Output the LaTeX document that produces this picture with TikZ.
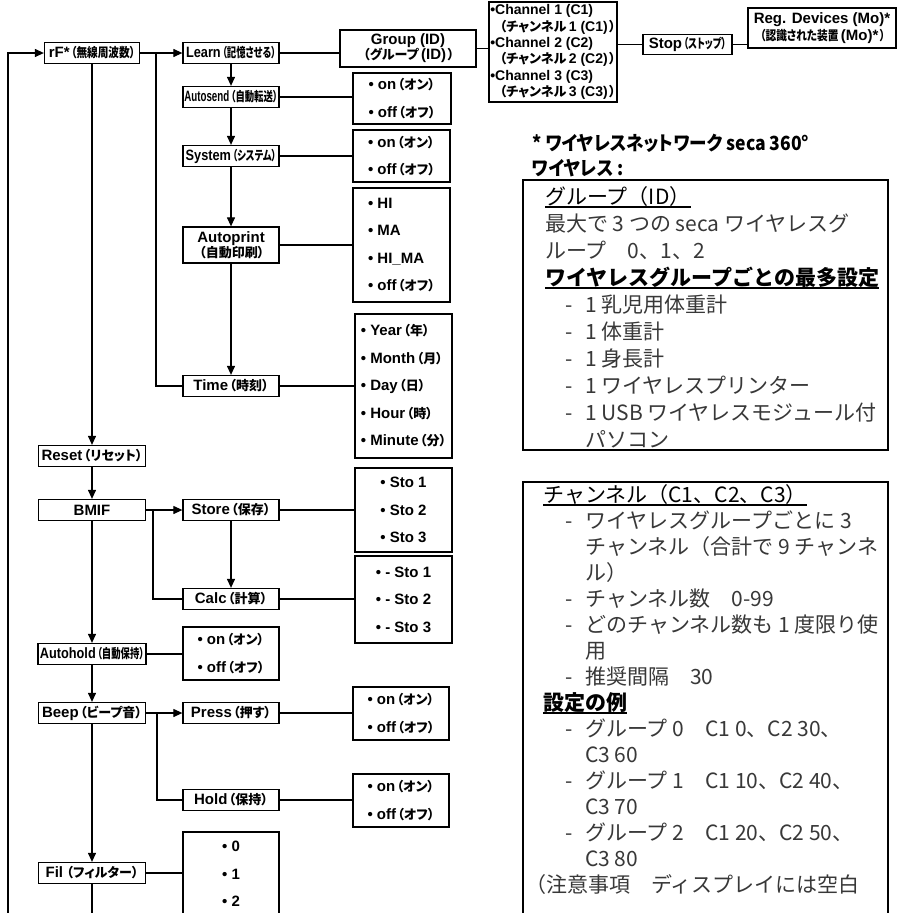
\documentclass[tikz,border=0pt]{standalone}
\usepackage{fontspec}
\setmainfont{Liberation Sans}
\newfontfamily\cA[FakeStretch=0.65]{Liberation Sans}
\newfontfamily\cB[FakeStretch=0.85]{Liberation Sans}
\newfontfamily\jpf{Noto Sans CJK JP}
\newfontfamily\jpp[RawFeature=+palt]{Noto Sans CJK JP}
\newfontfamily\jpc[RawFeature=+palt,FakeStretch=0.72]{Noto Sans CJK JP}
\newfontfamily\jpr[RawFeature=+palt,FakeStretch=0.82]{Noto Sans CJK JP}
\newfontfamily\jph[RawFeature=+palt,FakeStretch=0.9]{Noto Sans CJK JP}
\usetikzlibrary{arrows.meta}
\newcommand\J[1]{{\jpp\bfseries\fontsize{13}{14}\selectfont\hspace{1.5pt}#1}}
\newcommand\Jc[1]{{\jpc\bfseries\fontsize{13}{14}\selectfont\hspace{1.5pt}#1}}
\newcommand\Jr[1]{{\jpr\bfseries\fontsize{13}{14}\selectfont\hspace{1.5pt}#1}}
\newcommand\ulx[1]{\setbox0\hbox{#1}\rlap{\rule[-3.5pt]{\wd0}{1.6pt}}\box0}
\newcommand\dl[1]{\makebox[20pt][l]{-}#1}
\begin{document}
\begin{tikzpicture}[x=1pt,y=-1pt,
 lbl/.style={draw,line width=1.25pt,inner xsep=1pt,inner ysep=0pt,minimum height=21pt,font=\bfseries\fontsize{15}{17}\selectfont},
 opt/.style={draw,line width=1.25pt,inner sep=0pt,align=left,font=\bfseries\fontsize{15}{27.5}\selectfont},
 ln/.style={line width=1.15pt},
 arr/.style={ln,-{Triangle[length=9pt,width=8pt]}},
 note/.style={anchor=base west,inner sep=0pt,font=\jpf\fontsize{21}{24}\selectfont,text=black!78},
 noteh/.style={note,text=black},
 notehb/.style={note,text=black,font=\jpf\bfseries\fontsize{21}{24}\selectfont},
 head/.style={anchor=base west,inner sep=0pt,font=\jph\bfseries\fontsize{19.5}{22}\selectfont},
 frame/.style={line width=2pt}]
\fill[white] (0,0) rectangle (898,913);
\useasboundingbox (0,0) rectangle (898,913);

% top row
\node[lbl,minimum width=95pt] (rF) at (92,53) {rF*\Jr{（無線周波数）}};
\node[lbl,minimum width=96pt] (learn) at (231,53) {\cB Learn\Jc{（記憶させる）}};
\node[lbl,minimum width=136pt,minimum height=37pt,align=center,font=\bfseries\fontsize{15}{15}\selectfont] (group) at (408,48.5) {Group (ID)\\\J{（グループ}\,(ID)\J{）}};
\node[lbl,minimum width=128pt,minimum height=100pt,align=left,font=\bfseries\fontsize{14}{16.4}\selectfont] (chan) at (553,52) {•Channel 1 (C1)\\\hspace*{8pt}\J{（チャンネル}\,1 (C1)\J{）}\\•Channel 2 (C2)\\\hspace*{8pt}\J{（チャンネル}\,2 (C2)\J{）}\\•Channel 3 (C3)\\\hspace*{8pt}\J{（チャンネル}\,3 (C3)\J{）}};
\node[lbl,minimum width=89pt,minimum height=20pt] (stop) at (687.5,44.5) {Stop\Jc{（ストップ）}};
\node[lbl,minimum width=148pt,minimum height=40pt,align=center,font=\bfseries\fontsize{15}{17}\selectfont] (reg) at (822,28) {Reg. Devices (Mo)*\\\Jr{（認識された装置}\,(Mo)*\Jr{）}};

% learn column
\node[lbl,minimum width=96pt] (autosend) at (231,97) {\cA Autosend\Jc{（自動転送）}};
\node[lbl,minimum width=96pt] (system) at (231,156) {\cB System\Jc{（システム）}};
\node[lbl,minimum width=96pt,minimum height=36pt,align=center,font=\bfseries\fontsize{15}{15.5}\selectfont] (autoprint) at (231,245) {Autoprint\\\J{（自動印刷）}};
\node[lbl,minimum width=96pt] (time) at (231,386) {Time\J{（時刻）}};
\node[opt,minimum width=98pt,minimum height=51pt] (o1) at (402,98.5) {• on\J{（オン）}\\• off\J{（オフ）}};
\node[opt,minimum width=97pt,minimum height=52pt] (o2) at (401.5,156) {• on\J{（オン）}\\• off\J{（オフ）}};
\node[opt,minimum width=97pt,minimum height=114pt] (o3) at (401.5,245) {• HI\\• MA\\• HI\_MA\\• off\J{（オフ）}};
\node[opt,minimum width=97pt,minimum height=144pt] (o4) at (403.5,386) {• Year\J{（年）}\\• Month\J{（月）}\\• Day\J{（日）}\\• Hour\J{（時）}\\• Minute\J{（分）}};

% main column
\node[lbl,minimum width=107pt] (reset) at (92,456) {Reset\J{（リセット）}};
\node[lbl,minimum width=107pt] (bmif) at (92,510) {BMIF};
\node[lbl,minimum width=96pt] (store) at (231,510) {Store\J{（保存）}};
\node[lbl,minimum width=96pt] (calc) at (231,599) {Calc\J{（計算）}};
\node[opt,minimum width=97pt,minimum height=84pt] (o5) at (403.5,510) {• Sto 1\\• Sto 2\\• Sto 3};
\node[opt,minimum width=97pt,minimum height=87pt] (o6) at (403.5,599.5) {• - Sto 1\\• - Sto 2\\• - Sto 3};
\node[lbl,minimum width=108pt] (autohold) at (92,654) {\cB Autohold\Jc{（自動保持）}};
\node[opt,minimum width=96pt,minimum height=53pt] (o7) at (231,653.5) {• on\J{（オン）}\\• off\J{（オフ）}};
\node[lbl,minimum width=107pt] (beep) at (92,713) {Beep\J{（ビープ音）}};
\node[lbl,minimum width=96pt] (press) at (231,713) {Press\J{（押す）}};
\node[lbl,minimum width=96pt] (hold) at (231,800) {Hold\J{（保持）}};
\node[opt,minimum width=96pt,minimum height=53pt] (o8) at (401,713.5) {• on\J{（オン）}\\• off\J{（オフ）}};
\node[opt,minimum width=96pt,minimum height=53pt] (o9) at (401,800.5) {• on\J{（オン）}\\• off\J{（オフ）}};
\node[lbl,minimum width=107pt] (fil) at (92,873) {Fil\J{\hspace{2pt}（フィルター）}};
\node[opt,minimum width=96pt,minimum height=84pt] (o10) at (231,874) {• 0\\• 1\\• 2};

% connectors
\coordinate (loopbot) at (8,920);
\coordinate (filbot) at (92,920);
\coordinate (j1) at (156,53);
\coordinate (j2) at (153,510);
\coordinate (j3) at (157,713);
\draw[arr] (loopbot) |- (rF.west);
\draw[arr] (rF.east) -- (learn.west);
\draw[ln] (j1) |- (time.west);
\draw[ln] (learn.east) -- (learn.east -| group.west);
\draw[ln] (group.east) -- (group.east -| chan.west);
\draw[ln] (stop.west -| chan.east) -- (stop.west);
\draw[ln] (stop.east) -- (stop.east -| reg.west);
\draw[arr] (learn.south) -- (autosend.north);
\draw[arr] (autosend.south) -- (system.north);
\draw[arr] (system.south) -- (autoprint.north);
\draw[arr] (autoprint.south) -- (time.north);
\draw[ln] (autosend.east) -- (autosend.east -| o1.west);
\draw[ln] (system.east) -- (system.east -| o2.west);
\draw[ln] (autoprint.east) -- (autoprint.east -| o3.west);
\draw[ln] (time.east) -- (time.east -| o4.west);
\draw[arr] (rF.south) -- (reset.north);
\draw[arr] (reset.south) -- (bmif.north);
\draw[arr] (bmif.east) -- (store.west);
\draw[ln] (j2) |- (calc.west);
\draw[arr] (store.south) -- (calc.north);
\draw[ln] (store.east) -- (store.east -| o5.west);
\draw[ln] (calc.east) -- (calc.east -| o6.west);
\draw[arr] (bmif.south) -- (autohold.north);
\draw[ln] (autohold.east) -- (autohold.east -| o7.west);
\draw[arr] (autohold.south) -- (beep.north);
\draw[arr] (beep.east) -- (press.west);
\draw[ln] (j3) |- (hold.west);
\draw[ln] (press.east) -- (press.east -| o8.west);
\draw[ln] (hold.east) -- (hold.east -| o9.west);
\draw[arr] (beep.south) -- (fil.north);
\draw[ln] (fil.east) -- (fil.east -| o10.west);
\draw[ln] (fil.south) -- (filbot);

% notes
\node[head] (h1) at (532,150) {* ワイヤレスネットワーク seca 360°};
\node[head] (h2) at (532,175) {ワイヤレス :};
\draw[frame] (523,180) rectangle (888,450);
\draw[frame] (523,925) |- (888,482) -- (888,925);

\node[noteh] (a0) at (545,204) {\ulx{グループ（ID）}};
\node[note] (a1) at (545,231) {最大で 3 つの seca ワイヤレスグ};
\node[note] (a2) at (545,258) {ループ　0、1、2};
\node[notehb] (a3) at (545,285) {\ulx{ワイヤレスグループごとの最多設定}};
\node[note] (a4) at (565,312) {\dl{1 乳児用体重計}};
\node[note] (a5) at (565,339) {\dl{1 体重計}};
\node[note] (a6) at (565,366) {\dl{1 身長計}};
\node[note] (a7) at (565,393) {\dl{1 ワイヤレスプリンター}};
\node[note] (a8) at (565,420) {\dl{1 USB ワイヤレスモジュール付}};
\node[note] (a9) at (585,447) {パソコン};

\node[noteh] (b0) at (543,502) {\ulx{チャンネル（C1、C2、C3）}};
\node[note] (b1) at (565,528) {\dl{ワイヤレスグループごとに 3}};
\node[note] (b2) at (585,554) {チャンネル（合計で 9 チャンネ};
\node[note] (b3) at (585,580) {ル）};
\node[note] (b4) at (565,606) {\dl{チャンネル数　0-99}};
\node[note] (b5) at (565,632) {\dl{どのチャンネル数も 1 度限り使}};
\node[note] (b6) at (585,658) {用};
\node[note] (b7) at (565,684) {\dl{推奨間隔　30}};
\node[notehb] (b8) at (543,710) {\ulx{設定の例}};
\node[note] (b9) at (565,736) {\dl{グループ 0　C1 0、C2 30、}};
\node[note] (b10) at (585,762) {C3 60};
\node[note] (b11) at (565,788) {\dl{グループ 1　C1 10、C2 40、}};
\node[note] (b12) at (585,814) {C3 70};
\node[note] (b13) at (565,840) {\dl{グループ 2　C1 20、C2 50、}};
\node[note] (b14) at (585,866) {C3 80};
\node[note] (b15) at (525,892) {（注意事項　ディスプレイには空白};
\end{tikzpicture}
\end{document}
